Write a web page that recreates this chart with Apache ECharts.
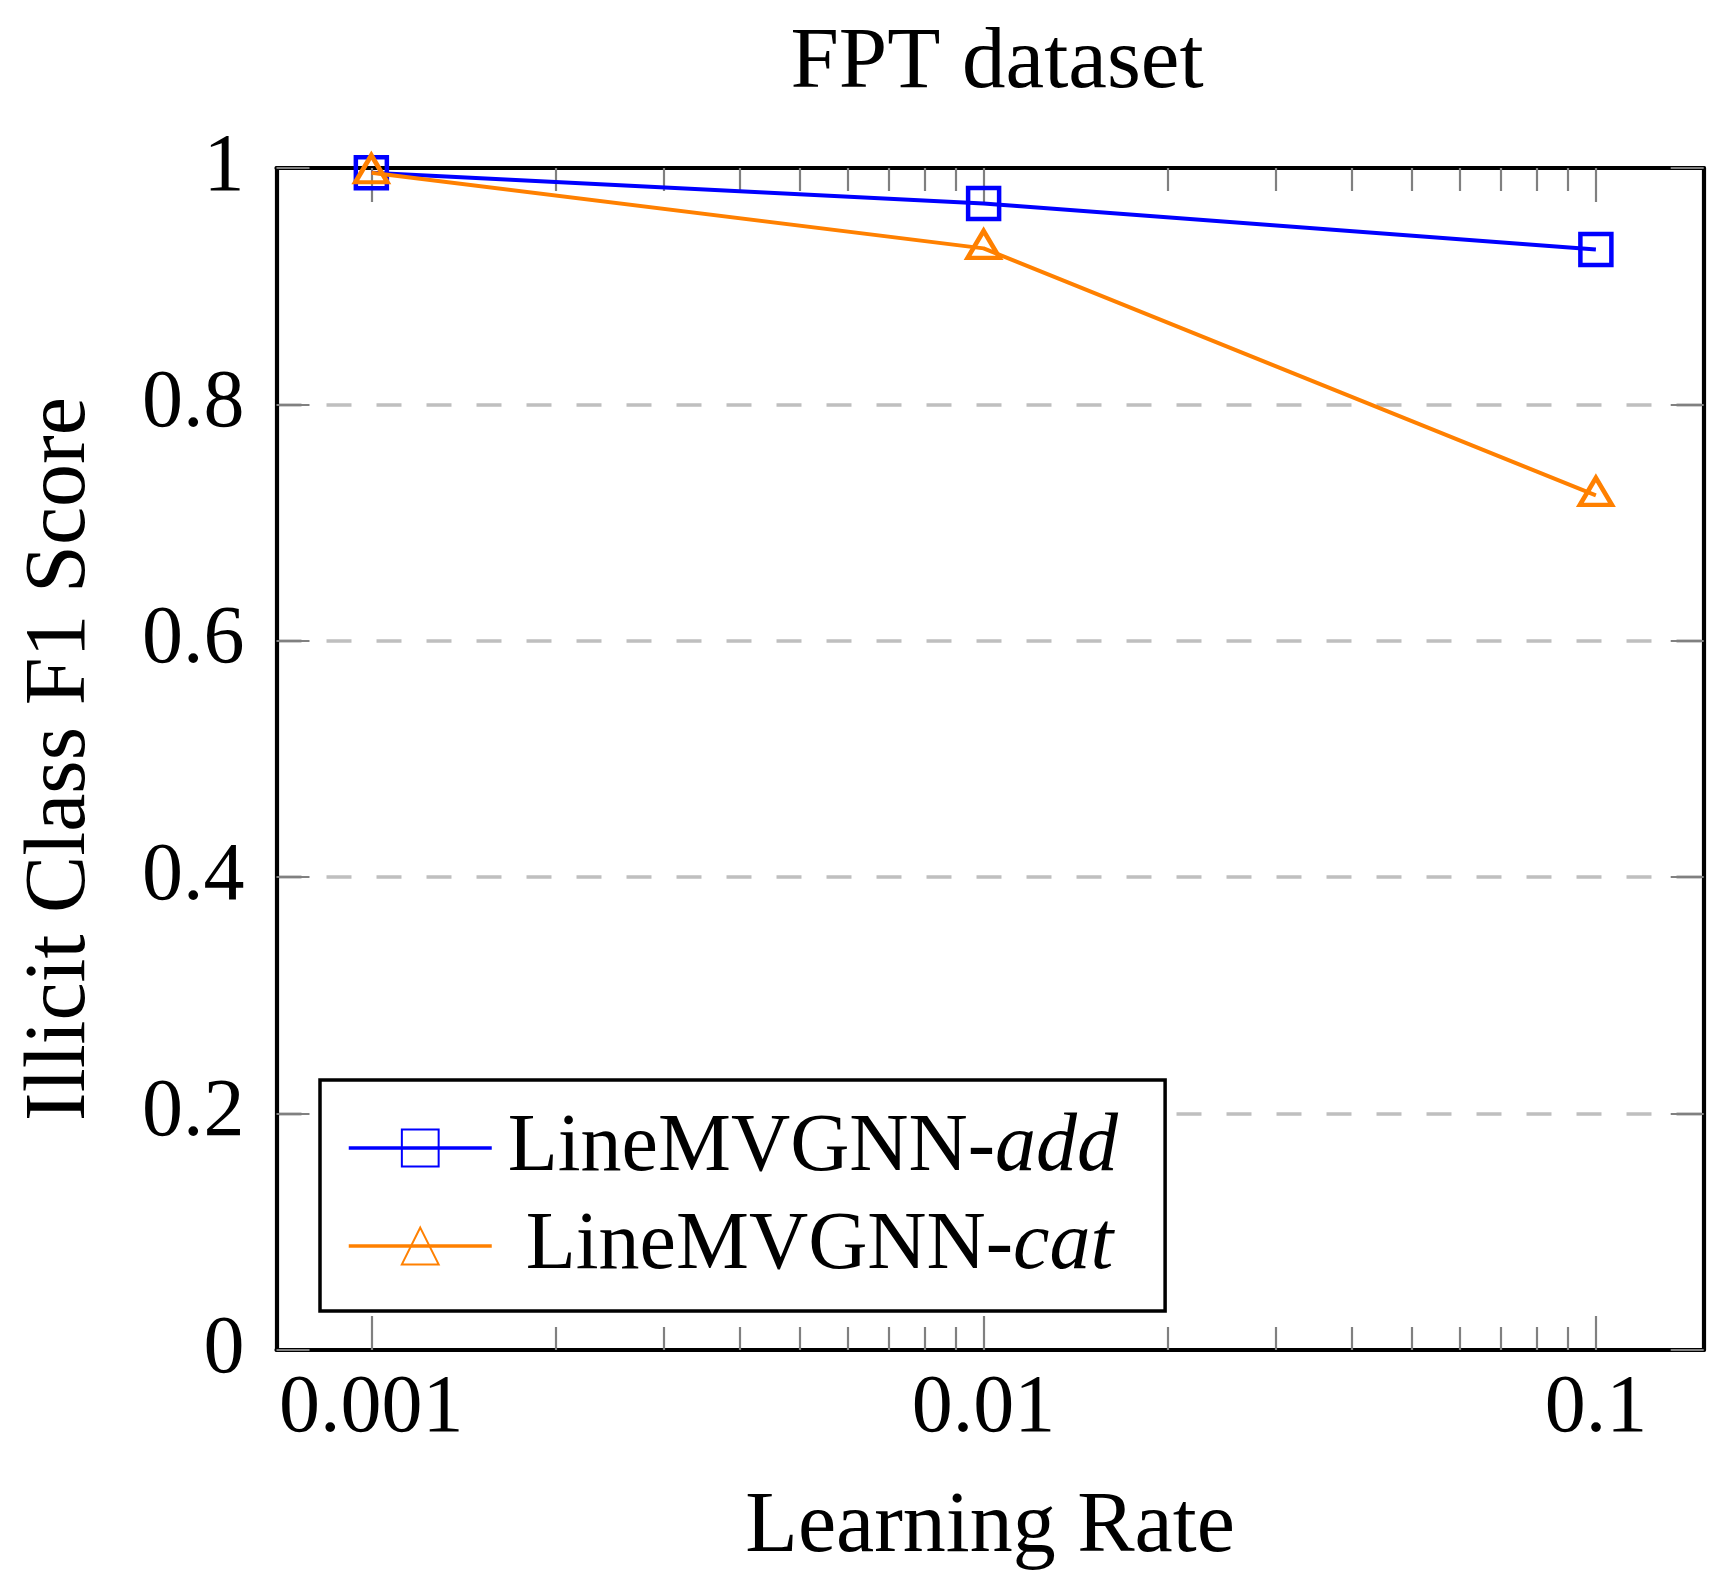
<!DOCTYPE html>
<html>
<head>
<meta charset="utf-8">
<title>FPT dataset</title>
<script src="https://cdn.jsdelivr.net/npm/echarts@6/dist/echarts.min.js"></script>
<style>
  html, body { margin: 0; padding: 0; background: #fff; }
  #chart { width: 1727px; height: 1585px; }
</style>
</head>
<body>
<div id="chart"></div>
<script>
// 数据
var learningRates = [0.001, 0.01, 0.1];
var addScores = [0.996, 0.970, 0.931];
var catScores = [0.996, 0.932, 0.723];
var majorTicks = [0.001, 0.01, 0.1];
var minorTicks = [0.002, 0.003, 0.004, 0.005, 0.006, 0.007, 0.008, 0.009,
                  0.02, 0.03, 0.04, 0.05, 0.06, 0.07, 0.08, 0.09];
var seriesNames = ['LineMVGNN-add', 'LineMVGNN-cat'];

var FONT = '"Liberation Serif", "DejaVu Serif", serif';
var X_MIN = 0.0007, X_MAX = 0.15;

function pairs(ys) {
  return learningRates.map(function (x, i) { return [x, ys[i]]; });
}

// 对数横轴（主刻度 / 次刻度，上下各一套）
function logAxis(pos, ticks, len, showLine, showLabel) {
  return {
    type: 'log',
    logBase: 10,
    position: pos,
    min: X_MIN,
    max: X_MAX,
    axisLine: { show: showLine, onZero: false, lineStyle: { color: '#000', width: 4.2 } },
    axisTick: {
      show: true, inside: true, length: len, customValues: ticks,
      lineStyle: { color: '#808080', width: 2.2 }
    },
    axisLabel: {
      show: showLabel, customValues: ticks, margin: 18,
      color: '#000', fontFamily: FONT, fontSize: 82,
      formatter: function (v) { return String(+v.toPrecision(3)); }
    },
    splitLine: { show: false },
    minorTick: { show: false },
    minorSplitLine: { show: false }
  };
}

var xBottom = logAxis('bottom', majorTicks, 34, true, true);
xBottom.name = 'Learning Rate';
xBottom.nameLocation = 'middle';
xBottom.nameGap = 135;
xBottom.nameTextStyle = { color: '#000', fontFamily: FONT, fontSize: 86 };

function yAxis(pos, showLabel, showSplit) {
  return {
    type: 'value',
    position: pos,
    min: 0,
    max: 1,
    interval: 0.2,
    axisLine: { show: true, onZero: false, lineStyle: { color: '#000', width: 4.2 } },
    axisTick: { show: true, inside: true, length: 33, lineStyle: { color: '#808080', width: 2.2 } },
    axisLabel: {
      show: showLabel, margin: 32, color: '#000', fontFamily: FONT, fontSize: 82,
      formatter: function (v) { return String(+v.toFixed(1)); }
    },
    splitLine: {
      show: showSplit, showMinLine: false, showMaxLine: false,
      lineStyle: { color: '#bfbfbf', width: 3.5, type: [25, 25] }
    }
  };
}

var yLeft = yAxis('left', true, true);
yLeft.name = 'Illicit Class F1 Score';
yLeft.nameLocation = 'middle';
yLeft.nameRotate = 90;
yLeft.nameGap = 172;
yLeft.nameTextStyle = { color: '#000', fontFamily: FONT, fontSize: 86 };

var myChart = echarts.init(document.getElementById('chart'));
myChart.setOption({
  animation: false,
  backgroundColor: '#fff',
  title: {
    text: 'FPT dataset',
    left: 997,
    top: 21,
    padding: 0,
    textAlign: 'center',
    textStyle: { color: '#000', fontFamily: FONT, fontSize: 87, fontWeight: 'normal' }
  },
  grid: {
    left: 276.5,
    right: 23.3,
    top: 168,
    bottom: 235,
    containLabel: false
  },
  legend: {
    orient: 'vertical',
    left: 320,
    top: 1080,
    data: seriesNames,
    itemWidth: 143,
    itemHeight: 46,
    itemGap: 16,
    itemTextGap: 21,
    padding: [27, 47, 24, 27],
    backgroundColor: '#fff',
    borderColor: '#000',
    borderWidth: 3.5,
    borderRadius: 0,
    lineStyle: { width: 3.5 },
    // 图例文字居中排列：第二行多留一点左边距
    formatter: function (name) {
      var parts = name.split('-');
      var lead = name === seriesNames[0] ? 'r' : 'r2';
      return '{' + lead + '|' + parts[0] + '-}{i|' + parts[1] + '}';
    },
    textStyle: {
      color: '#000', fontFamily: FONT, fontSize: 82,
      rich: {
        r: { fontFamily: FONT, fontSize: 82, color: '#000', padding: [0, 0, 0, 11] },
        r2: { fontFamily: FONT, fontSize: 82, color: '#000', padding: [0, 0, 0, 29] },
        i: { fontFamily: FONT, fontSize: 82, color: '#000', fontStyle: 'italic' }
      }
    }
  },
  xAxis: [
    xBottom,
    logAxis('bottom', minorTicks, 23, false, false),
    logAxis('top', majorTicks, 34, true, false),
    logAxis('top', minorTicks, 23, false, false)
  ],
  yAxis: [
    yLeft,
    yAxis('right', false, false)
  ],
  series: [{
    name: seriesNames[0],
    type: 'line',
    data: pairs(addScores),
    symbol: 'rect',
    symbolSize: 31,
    lineStyle: { color: '#0000ff', width: 4 },
    itemStyle: { color: 'rgba(255,255,255,0)', borderColor: '#0000ff', borderWidth: 4.5 },
    z: 3
  }, {
    name: seriesNames[1],
    type: 'line',
    data: pairs(catScores),
    symbol: 'triangle',
    symbolSize: [32, 27],
    symbolOffset: [0, -4],
    lineStyle: { color: '#ff8000', width: 4 },
    itemStyle: { color: 'rgba(255,255,255,0)', borderColor: '#ff8000', borderWidth: 4.5 },
    z: 4
  }]
});
</script>
</body>
</html>
